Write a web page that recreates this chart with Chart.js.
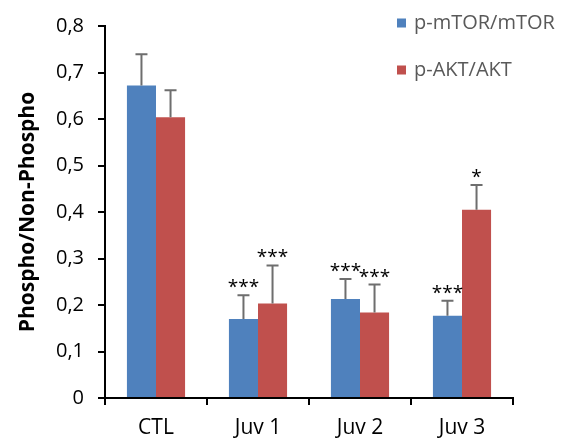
<!DOCTYPE html>
<html>
<head>
<meta charset="utf-8">
<script src="https://cdn.jsdelivr.net/npm/chart.js@4"></script>
<style>
  html, body { margin:0; padding:0; background:#fff; }
  #wrap { width:575px; height:446px; position:relative; }
</style>
</head>
<body>
<div id="wrap"><canvas id="chart"></canvas></div>
<script>
// ── Data ─────────────────────────────────────────────────
const categories = ['CTL', 'Juv 1', 'Juv 2', 'Juv 3'];
const seriesNames = ['p-mTOR/mTOR', 'p-AKT/AKT'];
const mtorVals = [0.672, 0.170, 0.213, 0.177];
const mtorErr  = [0.067, 0.051, 0.043, 0.032];
const aktVals  = [0.604, 0.203, 0.184, 0.405];
const aktErr   = [0.058, 0.082, 0.060, 0.053];
const mtorSig  = ['', '***', '***', '***'];
const aktSig   = ['', '***', '***', '*'];
const yTicks   = [0, 0.1, 0.2, 0.3, 0.4, 0.5, 0.6, 0.7, 0.8];

const BLUE = '#4F81BD', RED = '#C0504D';
const FONT = "'Open Sans', 'Noto Sans', sans-serif";

// ── Error bars + stars + legend ──────────────────────────
const extras = {
  id: 'extras',
  afterDatasetsDraw(chart) {
    const ctx = chart.ctx, y = chart.scales.y;
    const errs = [mtorErr, aktErr], sigs = [mtorSig, aktSig];
    chart.data.datasets.forEach((ds, di) => {
      chart.getDatasetMeta(di).data.forEach((bar, i) => {
        const top = y.getPixelForValue(ds.data[i] + errs[di][i]);
        ctx.save();
        ctx.strokeStyle = '#6e6e6e';
        ctx.lineWidth = 2;
        ctx.beginPath();
        ctx.moveTo(bar.x, bar.y);
        ctx.lineTo(bar.x, top);
        ctx.moveTo(bar.x - 6, top);
        ctx.lineTo(bar.x + 6, top);
        ctx.stroke();
        if (sigs[di][i]) {
          ctx.fillStyle = '#000';
          ctx.font = '19px ' + FONT;
          ctx.textAlign = 'center';
          ctx.textBaseline = 'alphabetic';
          ctx.fillText(sigs[di][i], bar.x, top - 2);
        }
        ctx.restore();
      });
    });
    // legend
    ctx.save();
    ctx.font = '20px ' + FONT;
    ctx.textBaseline = 'middle';
    ctx.textAlign = 'left';
    [[BLUE, 23], [RED, 70]].forEach(([c, cy], k) => {
      ctx.fillStyle = c;
      ctx.fillRect(397, cy - 4.5, 9, 9);
      ctx.fillStyle = '#595959';
      ctx.fillText(seriesNames[k], 414, cy);
    });
    ctx.restore();
  }
};

new Chart(document.getElementById('chart'), {
  type: 'bar',
  data: {
    labels: categories,
    datasets: [
      { label: seriesNames[0], data: mtorVals, backgroundColor: BLUE },
      { label: seriesNames[1], data: aktVals, backgroundColor: RED }
    ]
  },
  options: {
    responsive: true, maintainAspectRatio: false, animation: false,
    devicePixelRatio: 1,
    layout: { padding: { left: 0, top: 16, right: 62, bottom: 0 } },
    plugins: { legend: { display: false }, tooltip: { enabled: false } },
    datasets: { bar: { categoryPercentage: 0.57, barPercentage: 1 } },
    scales: {
      x: {
        grid: { display: true, drawOnChartArea: false, drawTicks: true, tickLength: 7, color: '#000', lineWidth: 2 },
        border: { display: true, color: '#000', width: 2 },
        ticks: { color: '#000', font: { family: FONT, size: 21 }, padding: 10 },
        afterFit: s => { s.height = 48; }
      },
      y: {
        min: 0, max: 0.8,
        afterBuildTicks: s => { s.ticks = yTicks.map(v => ({ value: v })); },
        grid: { display: true, drawOnChartArea: false, drawTicks: true, tickLength: 7, color: '#000', lineWidth: 2 },
        border: { display: true, color: '#000', width: 2 },
        ticks: {
          color: '#000', font: { family: FONT, size: 20 }, padding: 14,
          callback: v => v === 0 ? '0' : v.toFixed(1).replace('.', ',')
        },
        title: { display: true, text: 'Phospho/Non-Phospho', color: '#000',
                 font: { family: FONT, size: 21, weight: 'bold' }, padding: { top: 15, bottom: 0 } },
        afterFit: s => { s.width = 105; }
      }
    }
  },
  plugins: [extras]
});
</script>
</body>
</html>
